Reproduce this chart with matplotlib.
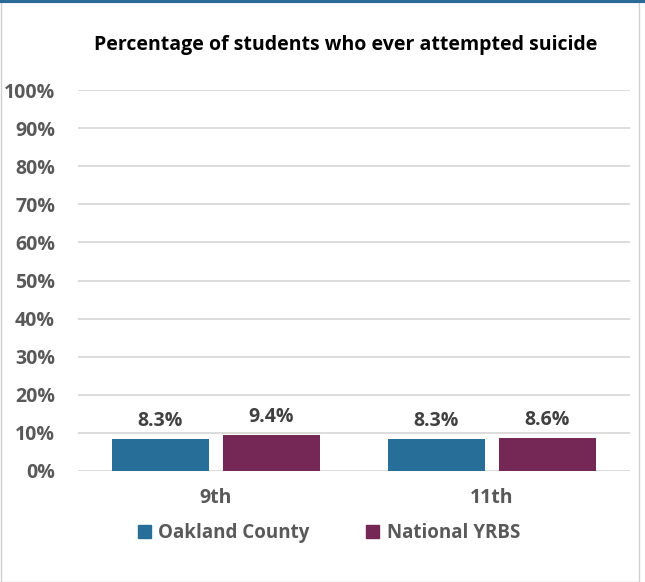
import matplotlib
matplotlib.use("Agg")
import matplotlib.pyplot as plt
from matplotlib.patches import Rectangle
from matplotlib.lines import Line2D
import numpy as np

categories = ["9th", "11th"]
series_names = ["Oakland County", "National YRBS"]
oakland = [8.3, 8.3]
national = [9.4, 8.6]
yticks = [0, 10, 20, 30, 40, 50, 60, 70, 80, 90, 100]

colors = ["#276F98", "#752855"]
gray = "#595959"
font = "Open Sans"

fig = plt.figure(figsize=(6.45, 5.82), dpi=100)
W, H = 645, 582
ax = fig.add_axes([78 / W, 1 - 471 / H, (630 - 78) / W, (471 - 90) / H])

x = np.arange(len(categories))
bw = 0.352
off = 0.201
for vals, dx, c in [(oakland, -off, colors[0]), (national, off, colors[1])]:
    bars = ax.bar(x + dx, vals, bw, color=c, zorder=3)
    for b, v in zip(bars, vals):
        ax.annotate(f"{v:.1f}%", (b.get_x() + b.get_width() / 2, v),
                    xytext=(0, 6), textcoords="offset points", ha="center", va="bottom",
                    fontsize=14, fontweight="bold", color="#404040", family=font)

ax.set_xlim(-0.5, 1.5)
ax.set_ylim(0, 100)
ax.set_yticks(yticks)
ax.set_yticklabels([f"{t}%" for t in yticks], fontsize=14, fontweight="bold",
                   color=gray, family=font)
ax.set_xticks(x)
ax.set_xticklabels(categories, fontsize=14, fontweight="bold", color=gray, family=font)
ax.tick_params(axis="both", length=0)
ax.tick_params(axis="y", pad=16.5)
ax.tick_params(axis="x", pad=12)
ax.grid(axis="y", color="#D9D9D9", linewidth=1.3, zorder=0)
for s in ax.spines.values():
    s.set_visible(False)

fig.text(346 / W, 1 - 45 / H, "Percentage of students who ever attempted suicide",
         ha="center", va="center", fontsize=14, fontweight="bold", color="black", family=font)

handles = [Rectangle((0, 0), 1, 1, color=c) for c in colors]
leg = fig.legend(handles, series_names, loc="center", bbox_to_anchor=(329 / W, 1 - 533 / H),
                 ncol=2, frameon=False, handlelength=0.7, handleheight=0.7, handletextpad=0.4,
                 columnspacing=3.0, prop={"family": font, "weight": "bold", "size": 13.5})
for t in leg.get_texts():
    t.set_color(gray)

# chart border
fig.add_artist(Rectangle((0.5 / W, 0.5 / H), (W - 7) / W, (H - 1.5) / H, transform=fig.transFigure,
                         fill=False, edgecolor="#D0D0D0", linewidth=1))
fig.add_artist(Line2D([0, 1], [1 - 1 / H, 1 - 1 / H], transform=fig.transFigure,
                      color="#2B6A96", linewidth=3))

fig.savefig("out.png", dpi=100)
